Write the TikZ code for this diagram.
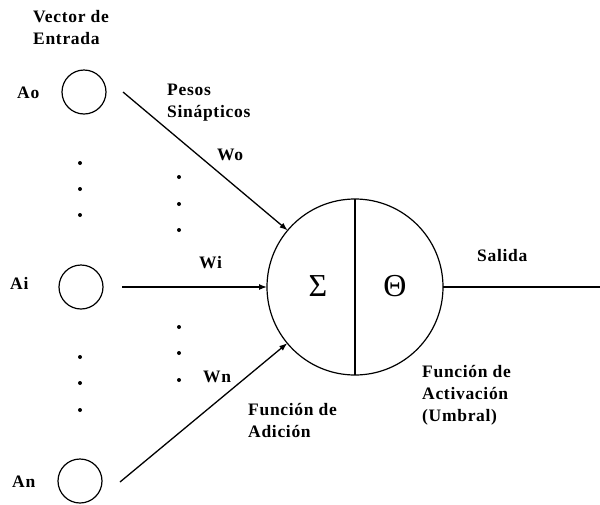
\documentclass[tikz,border=0pt]{standalone}
\usepackage{fontspec}
\setmainfont{Liberation Serif}
\newfontfamily\lblfont[LetterSpace=4]{Liberation Serif}
\usetikzlibrary{arrows.meta}
\begin{document}
\begin{tikzpicture}[x=1pt,y=-1pt,
  lbl/.style={font=\lblfont\fontsize{17.5}{22}\selectfont\bfseries, inner sep=0pt, align=left},
  inp/.style={circle, draw, line width=1.2pt, minimum size=44pt, inner sep=0pt, outer sep=0pt},
  conn/.style={line width=1.3pt, -{Latex[length=8pt,width=6pt]}},
  dotm/.style={circle, fill, inner sep=0pt, minimum size=4pt},
  greek/.style={font=\fontsize{32}{36}\selectfont, inner sep=0pt}]
\useasboundingbox (0,0) rectangle (600,504);
% input neurons
\node[inp] (ao) at (84,92) {};
\node[inp] (ai) at (81,287) {};
\node[inp] (an) at (80,481) {};
% main neuron
\node[circle, draw, line width=1.2pt, minimum size=176pt, inner sep=0pt, outer sep=0pt] (neuron) at (355,287) {};
\draw[line width=1.2pt] (neuron.north) -- (neuron.south);
\node[greek] (sigma) at (318,286) {Σ};
\node[greek] (theta) at (395,286) {Θ};
% connector start points
\coordinate (s0) at (123,92);
\coordinate (si) at (122,287);
\coordinate (sn) at (120,482);
\coordinate (out) at (600,287);
\draw[conn] (s0) -- (neuron);
\draw[conn] (si) -- (neuron.west);
\draw[conn] (sn) -- (neuron);
\draw[line width=1.3pt] (neuron.east) -- (out);
% dots
\foreach \i/\y in {1/163,2/189,3/215,4/357,5/383,6/410}
  \node[dotm] (da\i) at (80,\y) {};
\foreach \i/\y in {1/177,2/204,3/230,4/327,5/353,6/380}
  \node[dotm] (db\i) at (179,\y) {};
% labels
\node[lbl, anchor=north west] (ve) at (33,10) {Vector de\\Entrada};
\node[lbl, anchor=base west] (lao) at (17,98) {Ao};
\node[lbl, anchor=base west] (lai) at (10,289) {Ai};
\node[lbl, anchor=base west] (lan) at (12,487) {An};
\node[lbl, anchor=north west] (ps) at (167,84) {Pesos\\Sinápticos};
\node[lbl, anchor=base west] (wo) at (217,160) {Wo};
\node[lbl, anchor=base west] (wi) at (199,268) {Wi};
\node[lbl, anchor=base west] (wn) at (203,382) {Wn};
\node[lbl, anchor=base west] (sal) at (477,261) {Salida};
\node[lbl, anchor=north west] (fact) at (422,365) {Función de\\Activación\\(Umbral)};
\node[lbl, anchor=north west] (fad) at (248,403) {Función de\\Adición};
\end{tikzpicture}
\end{document}
